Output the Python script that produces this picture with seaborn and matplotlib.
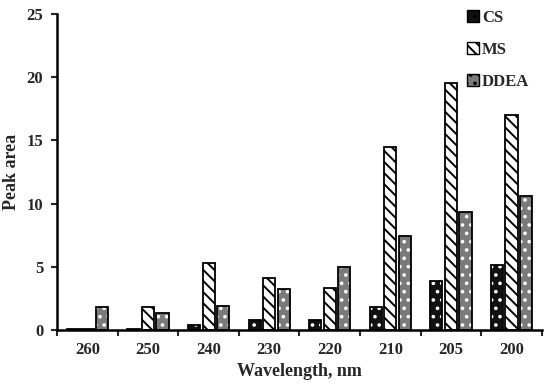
import matplotlib
matplotlib.use("Agg")
import matplotlib.pyplot as plt
import seaborn as sns
import pandas as pd
from matplotlib.patches import Rectangle
from matplotlib.ticker import FixedLocator

wavelengths = ["260", "250", "240", "230", "220", "210", "205", "200"]
cs = [0.05, 0.05, 0.4, 0.75, 0.75, 1.8, 3.9, 5.1]
ms = [0.05, 1.8, 5.3, 4.1, 3.3, 14.5, 19.5, 17.0]
ddea = [1.8, 1.3, 1.9, 3.2, 5.0, 7.4, 9.3, 10.6]
series = ["CS", "MS", "DDEA"]

df = pd.DataFrame({
    "Wavelength": wavelengths * 3,
    "Series": sum([[s] * len(wavelengths) for s in series], []),
    "Peak area": cs + ms + ddea,
})

sns.set_style("white")
plt.rcParams["font.family"] = ["Liberation Serif", "DejaVu Serif"]
plt.rcParams["font.weight"] = "bold"
plt.rcParams["hatch.linewidth"] = 1.4

styles = {
    "CS": dict(face="#111111", hatch="..", hcolor="#ffffff"),
    "MS": dict(face="#ffffff", hatch="\\\\\\", hcolor="#000000"),
    "DDEA": dict(face="#7a7a7a", hatch="..", hcolor="#ffffff"),
}

fig = plt.figure(figsize=(5.5, 3.89), dpi=100)
ax = fig.add_axes([0.104, 0.152, 0.881, 0.812])

sns.barplot(data=df, x="Wavelength", y="Peak area", hue="Series",
            order=wavelengths, hue_order=series, width=0.72, gap=0.16,
            ax=ax, legend=False, palette=["#111111", "#ffffff", "#7a7a7a"])

def style_patch(p, st):
    p.set_facecolor(st["face"])
    p.set_hatch(st["hatch"])
    p.set_edgecolor(st["hcolor"])
    p.set_linewidth(0)
    x, y = p.get_xy()
    r = Rectangle((x, y), p.get_width(), p.get_height(), fill=False,
                  edgecolor="black", linewidth=1.3, zorder=p.get_zorder() + 0.1)
    return r

bars = [p for p in ax.patches]
n = len(wavelengths)
extra = []
for i, p in enumerate(bars):
    s = series[i // n]
    extra.append(style_patch(p, styles[s]))
for r in extra:
    ax.add_patch(r)

ax.set_ylim(0, 25)
ax.set_xlim(-0.5, n - 0.5)
ax.set_yticks([0, 5, 10, 15, 20, 25])
ax.tick_params(axis="y", labelsize=12, length=4, width=1.5, direction="out", left=True, pad=6)
ax.tick_params(axis="x", which="major", length=0, labelsize=12, pad=9)
ax.xaxis.set_minor_locator(FixedLocator([i - 0.5 for i in range(n + 1)]))
ax.tick_params(axis="x", which="minor", length=4, width=1.5, direction="out", bottom=True)
for lab in ax.get_xticklabels() + ax.get_yticklabels():
    lab.set_fontweight("bold")

for s in ["top", "right"]:
    ax.spines[s].set_visible(False)
for s in ["left", "bottom"]:
    ax.spines[s].set_linewidth(1.8)
    ax.spines[s].set_color("black")

ax.set_xlabel("Wavelength, nm", fontsize=13, fontweight="bold", labelpad=3)
ax.set_ylabel("Peak area", fontsize=13, fontweight="bold", labelpad=5)

handles = []
for s in series:
    st = styles[s]
    h = Rectangle((0, 0), 1, 1, facecolor=st["face"], hatch=st["hatch"],
                  edgecolor="black", linewidth=1.0)
    handles.append(h)
leg = ax.legend(handles, series, loc="upper right", bbox_to_anchor=(1.005, 1.06),
                frameon=False, prop={"family": "Liberation Serif", "weight": "bold", "size": 12},
                handlelength=0.7, handleheight=0.7, handletextpad=0.2, labelspacing=0.95)

fig.savefig("out.png", dpi=100)
